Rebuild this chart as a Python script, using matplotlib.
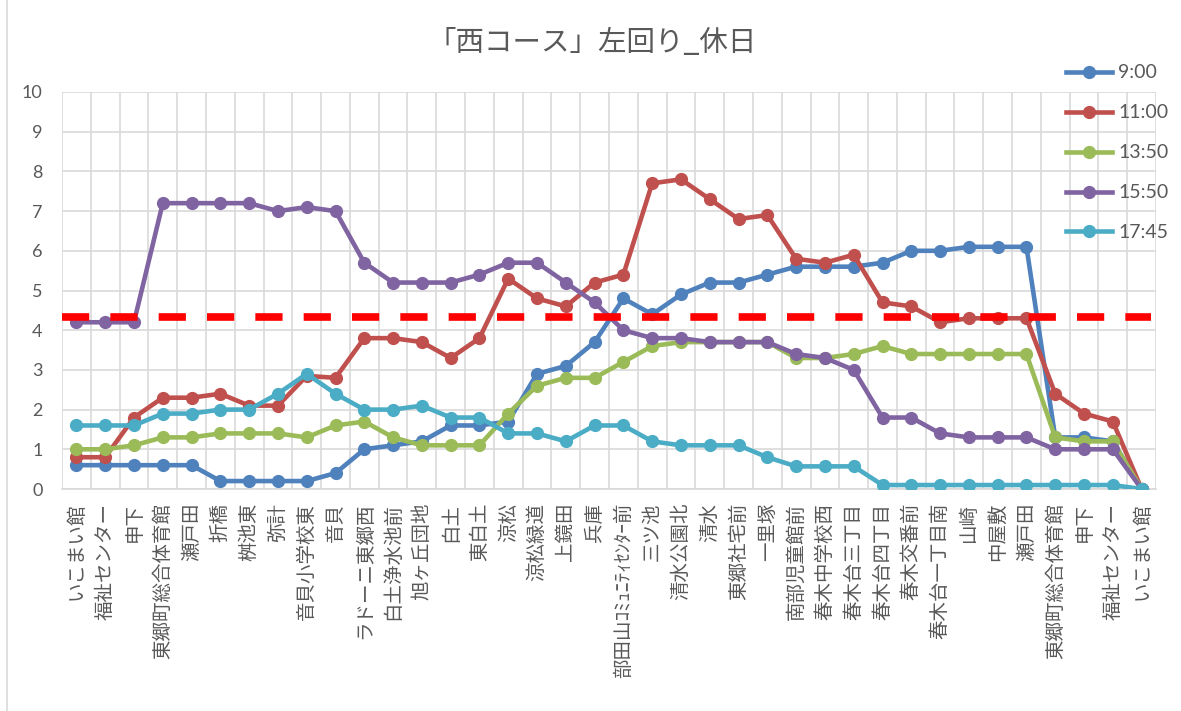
import matplotlib
matplotlib.use("Agg")
import matplotlib.pyplot as plt
from matplotlib.lines import Line2D

plt.rcParams['font.family'] = ['Noto Sans CJK JP', 'DejaVu Sans']
plt.rcParams['lines.scale_dashes'] = False

stops = ["いこまい館", "福祉センター", "申下", "東郷町総合体育館", "瀬戸田", "折橋", "桝池東",
         "弥計", "音貝小学校東", "音貝", "ラドーニ東郷西", "白土浄水池前", "旭ヶ丘団地", "白土",
         "東白土", "涼松", "涼松緑道", "上鏡田", "兵庫", "部田山ｺﾐｭﾆﾃｨｾﾝﾀｰ前", "三ツ池",
         "清水公園北", "清水", "東郷社宅前", "一里塚", "南部児童館前", "春木中学校西",
         "春木台三丁目", "春木台四丁目", "春木交番前", "春木台一丁目南", "山崎", "中屋敷",
         "瀬戸田", "東郷町総合体育館", "申下", "福祉センター", "いこまい館"]

s0900 = [0.6, 0.6, 0.6, 0.6, 0.6, 0.2, 0.2, 0.2, 0.2, 0.4, 1.0, 1.1, 1.2, 1.6, 1.6, 1.7,
         2.9, 3.1, 3.7, 4.8, 4.4, 4.9, 5.2, 5.2, 5.4, 5.6, 5.6, 5.6, 5.7, 6.0, 6.0, 6.1,
         6.1, 6.1, 1.3, 1.3, 1.2, 0.0]
s1100 = [0.8, 0.8, 1.8, 2.3, 2.3, 2.4, 2.1, 2.1, 2.85, 2.8, 3.8, 3.8, 3.7, 3.3, 3.8, 5.3,
         4.8, 4.6, 5.2, 5.4, 7.7, 7.8, 7.3, 6.8, 6.9, 5.8, 5.7, 5.9, 4.7, 4.6, 4.2, 4.3,
         4.3, 4.3, 2.4, 1.9, 1.7, 0.0]
s1350 = [1.0, 1.0, 1.1, 1.3, 1.3, 1.4, 1.4, 1.4, 1.3, 1.6, 1.7, 1.3, 1.1, 1.1, 1.1, 1.9,
         2.6, 2.8, 2.8, 3.2, 3.6, 3.7, 3.7, 3.7, 3.7, 3.3, 3.3, 3.4, 3.6, 3.4, 3.4, 3.4,
         3.4, 3.4, 1.3, 1.2, 1.2, 0.0]
s1550 = [4.2, 4.2, 4.2, 7.2, 7.2, 7.2, 7.2, 7.0, 7.1, 7.0, 5.7, 5.2, 5.2, 5.2, 5.4, 5.7,
         5.7, 5.2, 4.7, 4.0, 3.8, 3.8, 3.7, 3.7, 3.7, 3.4, 3.3, 3.0, 1.8, 1.8, 1.4, 1.3,
         1.3, 1.3, 1.0, 1.0, 1.0, 0.0]
s1745 = [1.6, 1.6, 1.6, 1.9, 1.9, 2.0, 2.0, 2.4, 2.9, 2.4, 2.0, 2.0, 2.1, 1.8, 1.8, 1.4,
         1.4, 1.2, 1.6, 1.6, 1.2, 1.1, 1.1, 1.1, 0.8, 0.57, 0.57, 0.57, 0.1, 0.1, 0.1, 0.1,
         0.1, 0.1, 0.1, 0.1, 0.1, 0.0]
series_names = ["9:00", "11:00", "13:50", "15:50", "17:45"]
series_colors = ["#4F81BD", "#C0504D", "#9BBB59", "#8064A2", "#4BACC6"]
threshold = 4.33

W, H = 1181, 711
fig = plt.figure(figsize=(W / 100, H / 100), dpi=100)
ax = fig.add_axes([62 / W, 1 - 489 / H, (1156 - 62) / W, (489 - 92) / H])

x = list(range(len(stops)))
all_series = [s0900, s1100, s1350, s1550, s1745]
handles = []
for vals, name, col in zip(all_series, series_names, series_colors):
    h, = ax.plot(x, vals, color=col, lw=3.3, marker='o', ms=8.5, label=name,
                 solid_joinstyle='round', zorder=3)
    handles.append(h)

ax.axhline(threshold, xmin=0, xmax=0.995, color='#FF0000', lw=5.5,
           dashes=(19.6, 15.2), zorder=4)

ax.set_xlim(-0.5, len(stops) - 0.5)
ax.set_ylim(0, 10)
ax.set_yticks(range(0, 11))
ax.set_xticks(x)
ax.set_xticks([i - 0.5 for i in range(len(stops) + 1)], minor=True)
ax.set_xticklabels(stops, rotation=90, ha='center', va='top', fontsize=14,
                   color='#595959')
ax.tick_params(axis='x', which='both', length=0, pad=10)
ax.tick_params(axis='y', length=0, pad=14, labelsize=13, labelcolor='#595959')
for lbl in ax.get_yticklabels():
    lbl.set_fontfamily(['Lato', 'DejaVu Sans'])
ax.grid(True, which='major', axis='y', color='#D9D9D9', lw=1.2)
ax.grid(True, which='minor', axis='x', color='#D9D9D9', lw=1.2)
ax.set_axisbelow(True)
for sp in ax.spines.values():
    sp.set_visible(False)
ax.spines['bottom'].set_visible(True)
ax.spines['bottom'].set_color('#D9D9D9')
ax.spines['bottom'].set_linewidth(1.2)

fig.text(592 / W, 1 - 43 / H, "「西コース」左回り_休日", ha='center', va='center',
         fontsize=20.5, color='#595959')

leg = fig.legend(handles=handles, loc='upper left',
                 bbox_to_anchor=(1048 / W, 1 - 47 / H), frameon=False,
                 prop={'family': ['Lato', 'DejaVu Sans'], 'size': 14},
                 handlelength=2.4, handletextpad=0.3, labelspacing=1.18)
for t in leg.get_texts():
    t.set_color('#595959')

fig.add_artist(Line2D([7 / W, 7 / W], [0, 1], color='#D9D9D9', lw=1.2))

fig.savefig("out.png", dpi=100)
